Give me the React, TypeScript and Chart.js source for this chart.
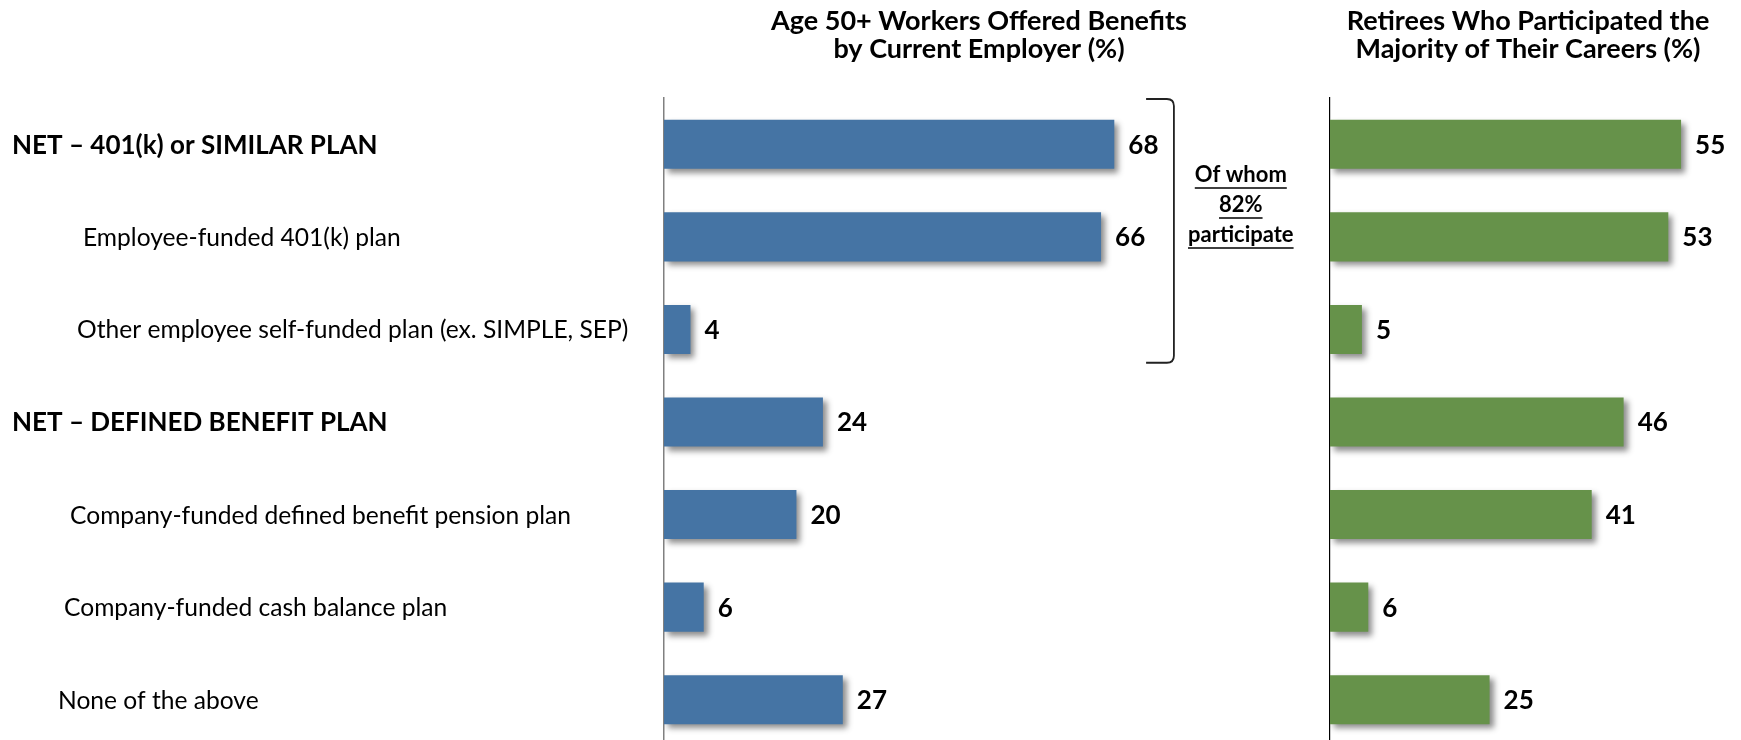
import React, { useEffect, useRef } from "react";
import { Chart, registerables } from "chart.js";

Chart.register(...registerables);

// ---------- data ----------
const categories = [
  "NET – 401(k) or SIMILAR PLAN",
  "Employee-funded 401(k) plan",
  "Other employee self-funded plan (ex. SIMPLE, SEP)",
  "NET – DEFINED BENEFIT PLAN",
  "Company-funded defined benefit pension plan",
  "Company-funded cash balance plan",
  "None of the above",
];
const workersOffered = [68, 66, 4, 24, 20, 6, 27];
const retireesParticipated = [55, 53, 5, 46, 41, 6, 25];
const leftTitle = ["Age 50+ Workers Offered Benefits", "by Current Employer (%)"];
const rightTitle = ["Retirees Who Participated the", "Majority of Their Careers (%)"];
const bracketNote = ["Of whom", "82%", "participate"];

// ---------- styles ----------
const FONT = "Lato, 'Noto Sans', sans-serif";
const BLUE = "rgb(69,116,164)";
const GREEN = "rgb(102,146,74)";
const labelIndent = [12, 83, 77, 12, 70, 64, 58];
const boldRow = [true, false, false, true, false, false, false];

const W = 1741;
const H = 746;
const SPLIT = 1310;

function makeShadowAndLabels(drawExtra?: (chart: any) => void) {
  return {
    id: "shadowLabels",
    beforeDatasetsDraw(chart: any) {
      const ctx = chart.ctx;
      ctx.save();
      ctx.shadowColor = "rgba(0,0,0,0.45)";
      ctx.shadowBlur = 6;
      ctx.shadowOffsetX = 4;
      ctx.shadowOffsetY = 4;
    },
    afterDatasetsDraw(chart: any) {
      const ctx = chart.ctx;
      ctx.restore();
      const meta = chart.getDatasetMeta(0);
      const data = chart.data.datasets[0].data as number[];
      ctx.save();
      ctx.fillStyle = "#000";
      ctx.font = `bold 26px ${FONT}`;
      ctx.textAlign = "left";
      ctx.textBaseline = "middle";
      meta.data.forEach((bar: any, i: number) => {
        ctx.fillText(String(data[i]), bar.x + 14, bar.y + 1);
      });
      ctx.restore();
      if (drawExtra) drawExtra(chart);
    },
  };
}

function drawTitle(ctx: CanvasRenderingContext2D, lines: string[], cx: number) {
  ctx.save();
  ctx.fillStyle = "#000";
  ctx.font = `bold 27px ${FONT}`;
  ctx.textAlign = "center";
  ctx.textBaseline = "middle";
  ctx.fillText(lines[0], cx, 21);
  ctx.fillText(lines[1], cx, 49);
  ctx.restore();
}

export default function App() {
  const leftRef = useRef<HTMLCanvasElement>(null);
  const rightRef = useRef<HTMLCanvasElement>(null);

  useEffect(() => {
    const leftExtra = (chart: any) => {
      const ctx = chart.ctx as CanvasRenderingContext2D;
      const y = chart.scales.y;
      const x = chart.scales.x;
      // category labels
      ctx.save();
      ctx.fillStyle = "#000";
      ctx.textAlign = "left";
      ctx.textBaseline = "middle";
      categories.forEach((c, i) => {
        ctx.font = boldRow[i] ? `bold 26px ${FONT}` : `24.6px ${FONT}`;
        ctx.fillText(c, labelIndent[i], y.getPixelForValue(i) + 1);
      });
      ctx.restore();
      // title
      drawTitle(ctx, leftTitle, 979);
      // bracket
      const band = y.getPixelForValue(1) - y.getPixelForValue(0);
      const top = y.getPixelForValue(0) - band / 2 + 1;
      const bottom = y.getPixelForValue(2) + band * 0.36;
      const bx = x.getPixelForValue(77);
      const bl = x.getPixelForValue(72.8);
      const r = 7;
      ctx.save();
      ctx.strokeStyle = "#222";
      ctx.lineWidth = 1.8;
      ctx.beginPath();
      ctx.moveTo(bl, top);
      ctx.lineTo(bx - r, top);
      ctx.quadraticCurveTo(bx, top, bx, top + r);
      ctx.lineTo(bx, bottom - r);
      ctx.quadraticCurveTo(bx, bottom, bx - r, bottom);
      ctx.lineTo(bl, bottom);
      ctx.stroke();
      ctx.restore();
      // note
      const nx = x.getPixelForValue(87.1);
      ctx.save();
      ctx.fillStyle = "#000";
      ctx.strokeStyle = "#000";
      ctx.lineWidth = 1.5;
      ctx.font = `bold 22px ${FONT}`;
      ctx.textAlign = "center";
      ctx.textBaseline = "middle";
      bracketNote.forEach((t, i) => {
        const ty = 175 + i * 30;
        ctx.fillText(t, nx, ty);
        const w = ctx.measureText(t).width;
        ctx.beginPath();
        ctx.moveTo(nx - w / 2, ty + 13);
        ctx.lineTo(nx + w / 2, ty + 13);
        ctx.stroke();
      });
      ctx.restore();
    };

    const rightExtra = (chart: any) => {
      drawTitle(chart.ctx, rightTitle, 1528 - SPLIT);
    };

    const common = (max: number, axisColor: string, axisWidth: number) => ({
      responsive: false,
      maintainAspectRatio: false,
      animation: false as const,
      devicePixelRatio: 1,
      indexAxis: "y" as const,
      plugins: {
        legend: { display: false },
        tooltip: { enabled: false },
        title: { display: false },
      },
      scales: {
        x: { display: false, min: 0, max },
        y: {
          display: true,
          grid: { display: false, drawTicks: false },
          ticks: { display: false },
          border: { display: true, color: axisColor, width: axisWidth },
          afterFit: (s: any) => {
            s.width = 0;
          },
        },
      },
    });

    const left = new Chart(leftRef.current!, {
      type: "bar",
      data: {
        labels: categories,
        datasets: [
          {
            data: workersOffered,
            backgroundColor: BLUE,
            borderWidth: 0,
            barPercentage: 0.53,
            categoryPercentage: 1,
          },
        ],
      },
      options: {
        ...common(90, "#808080", 1.5),
        layout: { padding: { left: 664, right: SPLIT - 1260, top: 98, bottom: 0 } },
      } as any,
      plugins: [makeShadowAndLabels(leftExtra)],
    });

    const right = new Chart(rightRef.current!, {
      type: "bar",
      data: {
        labels: categories,
        datasets: [
          {
            data: retireesParticipated,
            backgroundColor: GREEN,
            borderWidth: 0,
            barPercentage: 0.53,
            categoryPercentage: 1,
          },
        ],
      },
      options: {
        ...common(60, "#000000", 1.2),
        layout: { padding: { left: 1330 - SPLIT, right: 28, top: 98, bottom: 0 } },
      } as any,
      plugins: [makeShadowAndLabels(rightExtra)],
    });

    return () => {
      left.destroy();
      right.destroy();
    };
  }, []);

  return (
    <div
      style={{
        position: "fixed",
        left: 0,
        top: 0,
        width: W,
        height: 740,
        overflow: "hidden",
        background: "#fff",
      }}
    >
      <canvas
        ref={leftRef}
        width={SPLIT}
        height={H}
        style={{ position: "absolute", left: 0, top: 0, width: SPLIT, height: H }}
      />
      <canvas
        ref={rightRef}
        width={W - SPLIT}
        height={H}
        style={{ position: "absolute", left: SPLIT, top: 0, width: W - SPLIT, height: H }}
      />
    </div>
  );
}
